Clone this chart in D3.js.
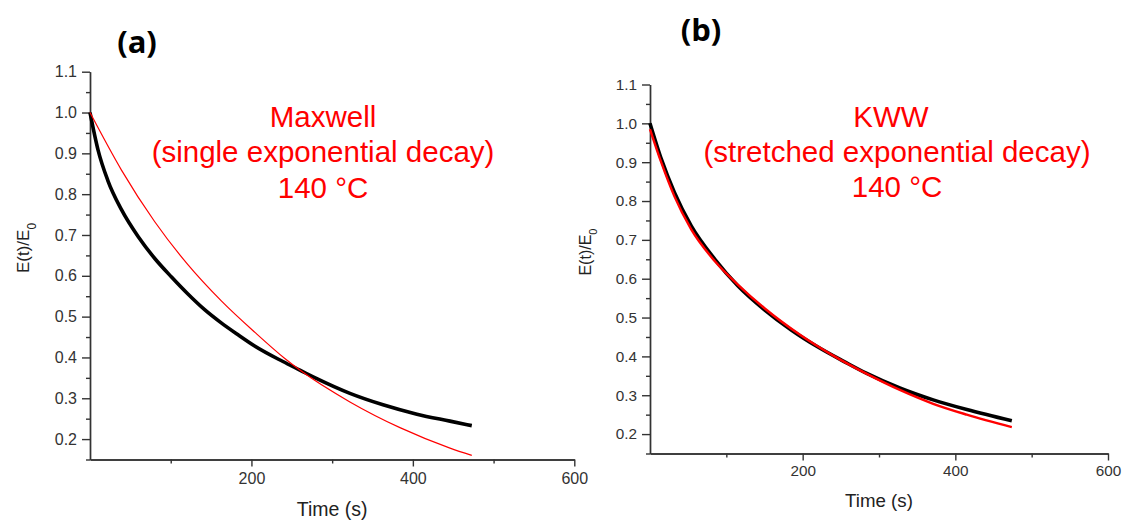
<!DOCTYPE html>
<html>
<head>
<meta charset="utf-8">
<script src="https://cdn.jsdelivr.net/npm/d3@7"></script>
<style>
  body { margin: 0; background: #fff; }
  text { font-family: "Liberation Sans", Arial, sans-serif; }
</style>
</head>
<body>
<div id="chart"></div>
<script>
// panel (a): measured relaxation vs Maxwell fit
var timeA = [0, 10, 22, 39, 60, 80, 101, 121, 142, 163, 183, 204, 239, 260, 281, 322, 363, 405, 446, 473];
var dataA = [1.0, 0.908, 0.834, 0.762, 0.695, 0.643, 0.597, 0.556, 0.517, 0.484, 0.456, 0.428, 0.390, 0.369, 0.348, 0.312, 0.284, 0.261, 0.244, 0.233];
var fitTimeA = [0, 39, 80, 121, 163, 204, 241, 260, 322, 384, 446, 473];
var fitA = [1.0, 0.859, 0.733, 0.628, 0.538, 0.462, 0.398, 0.369, 0.291, 0.228, 0.178, 0.160];

// panel (b): measured relaxation vs KWW fit
var timeB = [0, 15, 32, 54, 85, 115, 150, 185, 220, 255, 284, 328, 371, 415, 474];
var dataB = [1.0, 0.907, 0.822, 0.736, 0.650, 0.582, 0.520, 0.468, 0.424, 0.386, 0.356, 0.318, 0.288, 0.263, 0.234];
var fitTimeB = [0, 15, 32, 54, 85, 115, 150, 197, 240, 284, 328, 371, 415, 474];
var fitB = [0.985, 0.898, 0.812, 0.727, 0.645, 0.585, 0.524, 0.455, 0.402, 0.355, 0.313, 0.278, 0.250, 0.218];

var xMajor = [200, 400, 600];
var xMinor = [100, 300, 500];
var yMajor = [0.2, 0.3, 0.4, 0.5, 0.6, 0.7, 0.8, 0.9, 1.0, 1.1];
var yMinor = [0.15, 0.25, 0.35, 0.45, 0.55, 0.65, 0.75, 0.85, 0.95, 1.05];
var xDomain = [0, 600];
var yDomain = [0.15, 1.1];

var svg = d3.select('#chart')
  .append('svg')
  .attr('width', 1122)
  .attr('height', 520);

svg.append('rect').attr('width', 1122).attr('height', 520).attr('fill', '#fff');

function zip(t, v) {
  var out = [];
  for (var i = 0; i < t.length; i++) out.push([t[i], v[i]]);
  return out;
}

function drawPanel(p) {
  var x = d3.scaleLinear().domain(xDomain).range([p.left, p.right]);
  var y = d3.scaleLinear().domain(yDomain).range([p.bottom, p.top]);

  var g = svg.append('g');

  // minor ticks first, then major axes on top
  g.append('g')
    .attr('class', 'axis')
    .attr('transform', 'translate(0,' + p.bottom + ')')
    .call(d3.axisBottom(x).tickValues(xMinor).tickSize(4).tickSizeOuter(0).tickFormat(''));
  g.append('g')
    .attr('class', 'axis')
    .attr('transform', 'translate(' + p.left + ',0)')
    .call(d3.axisLeft(y).tickValues(yMinor).tickSize(4).tickSizeOuter(0).tickFormat(''));

  g.append('g')
    .attr('class', 'axis')
    .attr('transform', 'translate(0,' + p.bottom + ')')
    .call(d3.axisBottom(x).tickValues(xMajor).tickSize(7).tickSizeOuter(0).tickPadding(p.xPad).tickFormat(d3.format('d')));
  g.append('g')
    .attr('class', 'axis')
    .attr('transform', 'translate(' + p.left + ',0)')
    .call(d3.axisLeft(y).tickValues(yMajor).tickSize(8).tickSizeOuter(0).tickPadding(5).tickFormat(d3.format('.1f')));

  g.selectAll('.axis path, .axis line')
    .attr('stroke', '#333')
    .attr('stroke-width', 1.4);
  g.selectAll('.axis text')
    .attr('fill', '#333')
    .style('font-size', p.tickFont + 'px')
    .style('font-family', '"Liberation Sans", Arial, sans-serif');

  // axis titles
  g.append('text')
    .attr('x', (p.left + p.right) / 2)
    .attr('y', p.xTitleY)
    .attr('text-anchor', 'middle')
    .attr('fill', '#222')
    .style('font-size', p.titleFont + 'px')
    .text('Time (s)');

  var yt = g.append('text')
    .attr('transform', 'translate(' + p.yTitleX + ',' + p.yTitleY + ') rotate(-90)')
    .attr('text-anchor', 'middle')
    .attr('fill', '#222')
    .style('font-size', p.yTitleFont + 'px');
  yt.append('tspan').text('E(t)/E');
  yt.append('tspan').attr('baseline-shift', 'sub').style('font-size', (p.yTitleFont * 0.7) + 'px').text('0');

  var line = d3.line()
    .x(function(d) { return x(d[0]); })
    .y(function(d) { return y(d[1]); })
    .curve(d3.curveMonotoneX);

  g.append('path')
    .datum(zip(p.t, p.v))
    .attr('fill', 'none')
    .attr('stroke', '#000')
    .attr('stroke-width', 3.6)
    .attr('stroke-linejoin', 'round')
    .attr('d', line);

  g.append('path')
    .datum(zip(p.ft, p.fv))
    .attr('fill', 'none')
    .attr('stroke', '#ff0000')
    .attr('stroke-width', p.fitWidth)
    .attr('d', line);

  // panel letter
  g.append('text')
    .attr('x', p.letterX)
    .attr('y', p.letterY)
    .attr('text-anchor', 'middle')
    .attr('fill', '#000')
    .style('font-family', '"Open Sans", "DejaVu Sans", sans-serif')
    .style('font-weight', 'bold')
    .style('font-size', '31px')
    .text(p.letter);

  // annotation
  p.note.forEach(function(s, i) {
    g.append('text')
      .attr('x', p.noteX[i])
      .attr('y', p.noteY[i])
      .attr('text-anchor', 'middle')
      .attr('fill', '#ff0000')
      .style('font-size', '29.5px')
      .text(s);
  });
}

drawPanel({
  left: 90, right: 574.3, top: 71.7, bottom: 459.5,
  t: timeA, v: dataA, ft: fitTimeA, fv: fitA, fitWidth: 1.2,
  tickFont: 16, titleFont: 19.5, yTitleFont: 17, xPad: 6,
  xTitleY: 516, yTitleX: 29, yTitleY: 248,
  letter: '(a)', letterX: 137, letterY: 53,
  note: ['Maxwell', '(single exponential decay)', '140 \u00B0C'],
  noteX: [323, 323, 323], noteY: [127, 162, 198]
});

drawPanel({
  left: 650, right: 1108, top: 84.5, bottom: 453.5,
  t: timeB, v: dataB, ft: fitTimeB, fv: fitB, fitWidth: 2.4,
  tickFont: 15.3, titleFont: 18.7, yTitleFont: 16, xPad: 5,
  xTitleY: 507, yTitleX: 591, yTitleY: 252,
  letter: '(b)', letterX: 701, letterY: 41,
  note: ['KWW', '(stretched exponential decay)', '140 \u00B0C'],
  noteX: [891, 897, 897], noteY: [127, 162, 197]
});
</script>
</body>
</html>
